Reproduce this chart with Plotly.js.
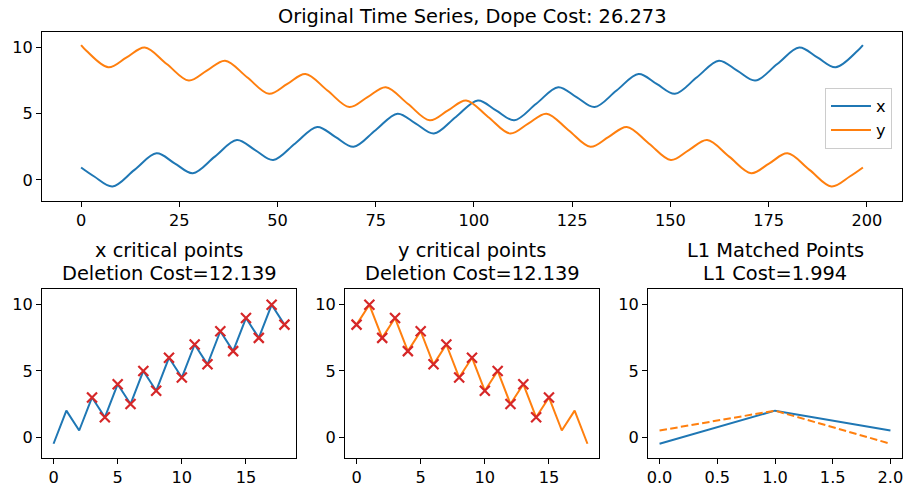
<!DOCTYPE html>
<html><head><meta charset="utf-8">
<script src="https://cdn.plot.ly/plotly-3.0.1.min.js"></script>
<style>html,body{margin:0;padding:0;background:#fff}</style>
</head><body><div id="chart" style="width:904px;height:486px"></div>
<script>
// Original time series (extrema and mid-crossings)
const seriesXTime = [0,3.35,8,13.6,19.2,23.8,28.45,34.05,39.65,44.3,48.9,54.5,60.1,64.7,69.35,74.95,80.55,85.2,89.8,95.4,101,105.6,110.25,115.85,121.45,126.1,130.7,136.3,141.9,146.5,151.15,156.75,162.35,167,171.6,177.2,182.8,187.4,192.05,197.65,199];
const seriesXValue = [0.93,0.25,-0.5,0.75,2,1.25,0.5,1.75,3,2.25,1.5,2.75,4,3.25,2.5,3.75,5,4.25,3.5,4.75,6,5.25,4.5,5.75,7,6.25,5.5,6.75,8,7.25,6.5,7.75,9,8.25,7.5,8.75,10,9.25,8.5,9.75,10.17];
const seriesYTime = [0,1.35,6.95,11.6,16.2,21.8,27.4,32,36.65,42.25,47.85,52.5,57.1,62.7,68.3,72.9,77.55,83.15,88.75,93.4,98,103.6,109.2,113.8,118.45,124.05,129.65,134.3,138.9,144.5,150.1,154.7,159.35,164.95,170.55,175.2,179.8,185.4,191,195.65,199];
const seriesYValue = [10.17,9.75,8.5,9.25,10,8.75,7.5,8.25,9,7.75,6.5,7.25,8,6.75,5.5,6.25,7,5.75,4.5,5.25,6,4.75,3.5,4.25,5,3.75,2.5,3.25,4,2.75,1.5,2.25,3,1.75,0.5,1.25,2,0.75,-0.5,0.25,0.93];

// Critical points
const xCritIdx = [0,1,2,3,4,5,6,7,8,9,10,11,12,13,14,15,16,17,18];
const xCritVal = [-0.5,2,0.5,3,1.5,4,2.5,5,3.5,6,4.5,7,5.5,8,6.5,9,7.5,10,8.5];
const xMarkIdx = [3,4,5,6,7,8,9,10,11,12,13,14,15,16,17,18];
const xMarkVal = [3,1.5,4,2.5,5,3.5,6,4.5,7,5.5,8,6.5,9,7.5,10,8.5];
const yCritIdx = [0,1,2,3,4,5,6,7,8,9,10,11,12,13,14,15,16,17,18];
const yCritVal = [8.5,10,7.5,9,6.5,8,5.5,7,4.5,6,3.5,5,2.5,4,1.5,3,0.5,2,-0.5];
const yMarkIdx = [0,1,2,3,4,5,6,7,8,9,10,11,12,13,14,15];
const yMarkVal = [8.5,10,7.5,9,6.5,8,5.5,7,4.5,6,3.5,5,2.5,4,1.5,3];

// L1 matched points
const matchIdx = [0,1,2];
const matchX = [-0.5,2,0.5];
const matchY = [0.5,2,-0.5];

const topTitle = "Original Time Series, Dope Cost: 26.273";
const subTitles = [["x critical points","Deletion Cost=12.139"],["y critical points","Deletion Cost=12.139"],["L1 Matched Points","L1 Cost=1.994"]];

const BLUE="#1f77b4", ORANGE="#ff7f0e", RED="#d62728";
const FONT="DejaVu Sans, sans-serif";
const TICK=16.2, TITLE=19.4;
const W=904,H=486;
const px=v=>v/W, py=v=>1-v/H;

const traces=[
 {x:seriesXTime,y:seriesXValue,name:"x",mode:"lines",line:{color:BLUE,width:2,shape:"spline",smoothing:1},xaxis:"x",yaxis:"y"},
 {x:seriesYTime,y:seriesYValue,name:"y",mode:"lines",line:{color:ORANGE,width:2,shape:"spline",smoothing:1},xaxis:"x",yaxis:"y"},
 {x:xCritIdx,y:xCritVal,mode:"lines",line:{color:BLUE,width:2},xaxis:"x2",yaxis:"y2",showlegend:false},
 {x:xMarkIdx,y:xMarkVal,mode:"markers",marker:{symbol:"x-thin",size:10,color:RED,line:{color:RED,width:2.2}},xaxis:"x2",yaxis:"y2",showlegend:false},
 {x:yCritIdx,y:yCritVal,mode:"lines",line:{color:ORANGE,width:2},xaxis:"x3",yaxis:"y3",showlegend:false},
 {x:yMarkIdx,y:yMarkVal,mode:"markers",marker:{symbol:"x-thin",size:10,color:RED,line:{color:RED,width:2.2}},xaxis:"x3",yaxis:"y3",showlegend:false},
 {x:matchIdx,y:matchX,mode:"lines",line:{color:BLUE,width:2},xaxis:"x4",yaxis:"y4",showlegend:false},
 {x:matchIdx,y:matchY,mode:"lines",line:{color:ORANGE,width:2,dash:"7.5px,3.3px"},xaxis:"x4",yaxis:"y4",showlegend:false}
];

const ax=(o)=>Object.assign({showline:true,mirror:true,linecolor:"#000",linewidth:1,ticks:"outside",ticklen:5,tickwidth:1,tickcolor:"#000",showgrid:false,zeroline:false,tickfont:{family:FONT,size:TICK,color:"#000"},fixedrange:true},o);
const YR=[-1.6,11.17];
const layout={
 width:W,height:H,margin:{l:0,r:0,t:0,b:0},paper_bgcolor:"#fff",plot_bgcolor:"#fff",
 font:{family:FONT,color:"#000"},
 xaxis:ax({domain:[px(42),px(902)],range:[-9.95,208.95],tickvals:[0,25,50,75,100,125,150,175,200],anchor:"y"}),
 yaxis:ax({domain:[py(201),py(32)],range:YR,tickvals:[0,5,10],anchor:"x"}),
 xaxis2:ax({domain:[px(42),px(296)],range:[-0.9,18.9],tickvals:[0,5,10,15],anchor:"y2",ticklabelstandoff:-1}),
 yaxis2:ax({domain:[py(458.3),py(289.3)],range:YR,tickvals:[0,5,10],anchor:"x2"}),
 xaxis3:ax({domain:[px(345),px(599)],range:[-0.9,18.9],tickvals:[0,5,10,15],anchor:"y3",ticklabelstandoff:-1}),
 yaxis3:ax({domain:[py(458.3),py(289.3)],range:YR,tickvals:[0,5,10],anchor:"x3"}),
 xaxis4:ax({domain:[px(648),px(902)],range:[-0.1,2.1],tickvals:[0,0.5,1,1.5,2],tickformat:".1f",anchor:"y4",ticklabelstandoff:-1}),
 yaxis4:ax({domain:[py(458.3),py(289.3)],range:YR,tickvals:[0,5,10],anchor:"x4"}),
 showlegend:true,
 legend:{x:px(825),y:py(88),xanchor:"left",yanchor:"top",itemwidth:40,bgcolor:"rgba(255,255,255,0.8)",bordercolor:"#cccccc",borderwidth:1,font:{family:FONT,size:TICK,color:"#000"}},
 annotations:[]
};
layout.annotations.push({text:topTitle,xref:"paper",yref:"paper",x:px(472),y:py(16.7),xanchor:"center",yanchor:"middle",showarrow:false,font:{family:FONT,size:TITLE,color:"#000"}});
const centers=[169,472,775];
subTitles.forEach((t,i)=>{
 layout.annotations.push({text:t[0],xref:"paper",yref:"paper",x:px(centers[i]),y:py(250.5),xanchor:"center",yanchor:"middle",showarrow:false,font:{family:FONT,size:TITLE,color:"#000"}});
 layout.annotations.push({text:t[1],xref:"paper",yref:"paper",x:px(centers[i]),y:py(273.5),xanchor:"center",yanchor:"middle",showarrow:false,font:{family:FONT,size:TITLE,color:"#000"}});
});
Plotly.newPlot("chart",traces,layout,{displayModeBar:false,staticPlot:true});
</script></body></html>
